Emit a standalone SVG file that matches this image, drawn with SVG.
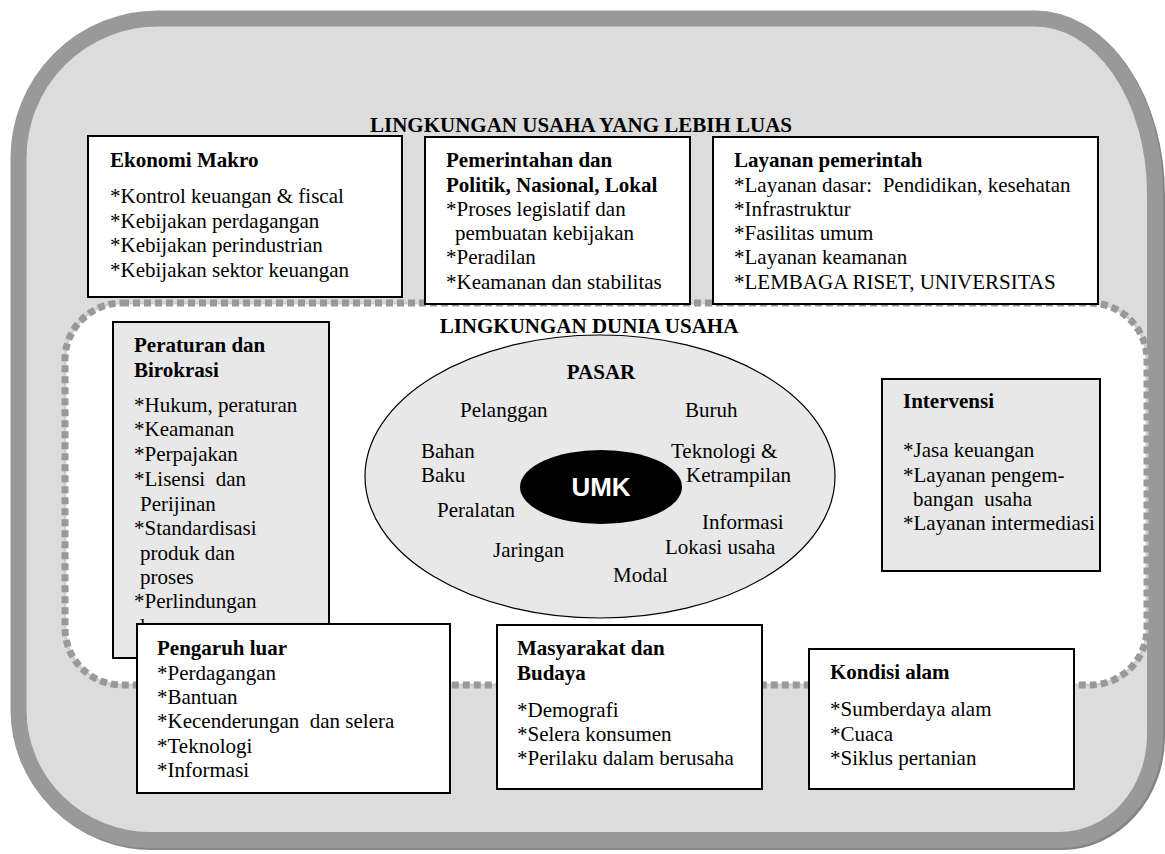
<svg xmlns="http://www.w3.org/2000/svg" width="1165" height="854" viewBox="0 0 1165 854">
<style>
text{font-family:"Liberation Serif","Times New Roman",serif;font-size:21px;fill:#000}
.b{font-weight:bold}
.box{fill:#fff;stroke:#000;stroke-width:2}
.gbox{fill:#e8e8e8;stroke:#000;stroke-width:2}
.umk{font-family:"Liberation Sans",Arial,sans-serif;font-weight:bold;font-size:26px;fill:#fff}
</style>
<defs>
<path id="outerPath" d="M158,18.5 H1035 A120,175 0 0 1 1155,193.5 V735 A95,105 0 0 1 1060,840 H150 A132,130 0 0 1 18.5,710 V158 A139.5,139.5 0 0 1 158,18.5 Z"/>
</defs>
<rect width="1165" height="854" fill="#fff"/>
<g id="outer">
<use href="#outerPath" transform="translate(2,2)" fill="none" stroke="#858585" stroke-width="16"/>
<use href="#outerPath" fill="#dcdcdc" stroke="#999" stroke-width="16"/>
<text class="b" x="581" y="132" text-anchor="middle">LINGKUNGAN USAHA YANG LEBIH LUAS</text>
</g>
<g id="inner">
<rect x="65" y="303" width="1082" height="382" rx="57" fill="#fff" stroke="#cfcfcf" stroke-width="3"/>
<rect x="65" y="303" width="1082" height="382" rx="57" fill="none" stroke="#999" stroke-width="7" stroke-dasharray="7,4"/>
<text class="b" x="589" y="333" text-anchor="middle">LINGKUNGAN DUNIA USAHA</text>
</g>
<g id="ekonomi-makro">
<rect class="box" x="88" y="136" width="314" height="161"/>
<text class="b" x="110" y="167">Ekonomi Makro</text>
<text x="110" y="203">*Kontrol keuangan &amp; fiscal</text>
<text x="110" y="228">*Kebijakan perdagangan</text>
<text x="110" y="252">*Kebijakan perindustrian</text>
<text x="110" y="277">*Kebijakan sektor keuangan</text>
</g>
<g id="pemerintahan">
<rect class="box" x="425" y="137" width="265" height="167"/>
<text class="b" x="446" y="167">Pemerintahan dan</text>
<text class="b" x="446" y="192">Politik, Nasional, Lokal</text>
<text x="446" y="216">*Proses legislatif dan</text>
<text x="455" y="240">pembuatan kebijakan</text>
<text x="446" y="264">*Peradilan</text>
<text x="446" y="289">*Keamanan dan stabilitas</text>
</g>
<g id="layanan-pemerintah">
<rect class="box" x="713" y="137" width="385" height="167"/>
<text class="b" x="734" y="167">Layanan pemerintah</text>
<text x="734" y="192" xml:space="preserve">*Layanan dasar:  Pendidikan, kesehatan</text>
<text x="734" y="216">*Infrastruktur</text>
<text x="734" y="240">*Fasilitas umum</text>
<text x="734" y="264">*Layanan keamanan</text>
<text x="734" y="289">*LEMBAGA RISET, UNIVERSITAS</text>
</g>
<g id="peraturan">
<rect class="gbox" x="113" y="322" width="216" height="336"/>
<text class="b" x="134" y="352">Peraturan dan</text>
<text class="b" x="134" y="377">Birokrasi</text>
<text x="134" y="412">*Hukum, peraturan</text>
<text x="134" y="436">*Keamanan</text>
<text x="134" y="461">*Perpajakan</text>
<text x="134" y="486" xml:space="preserve">*Lisensi  dan</text>
<text x="140" y="511">Perijinan</text>
<text x="134" y="535">*Standardisasi</text>
<text x="140" y="560">produk dan</text>
<text x="140" y="584">proses</text>
<text x="134" y="608">*Perlindungan</text>
<text x="140" y="633">konsumen</text>
</g>
<g id="pasar">
<ellipse cx="600" cy="476.5" rx="235" ry="141.5" fill="#e8e8e8" stroke="#000" stroke-width="1.2"/>
<rect x="813" y="565" width="20" height="15" fill="#fff"/>
<text class="b" x="601" y="379" text-anchor="middle">PASAR</text>
<text x="460" y="417">Pelanggan</text>
<text x="685" y="417">Buruh</text>
<text x="421" y="458">Bahan</text>
<text x="421" y="482">Baku</text>
<text x="671" y="458">Teknologi &amp;</text>
<text x="686" y="482">Ketrampilan</text>
<text x="437" y="517">Peralatan</text>
<text x="702" y="529">Informasi</text>
<text x="493" y="557">Jaringan</text>
<text x="665" y="554">Lokasi usaha</text>
<text x="613" y="582">Modal</text>
</g>
<g id="umk">
<ellipse cx="601" cy="487" rx="81" ry="37" fill="#000"/>
<text class="umk" x="601" y="496" text-anchor="middle">UMK</text>
</g>
<g id="intervensi">
<rect class="gbox" x="882" y="379" width="218" height="192"/>
<text class="b" x="903" y="408">Intervensi</text>
<text x="903" y="457">*Jasa keuangan</text>
<text x="903" y="482">*Layanan pengem-</text>
<text x="913" y="506" xml:space="preserve">bangan  usaha</text>
<text x="903" y="530">*Layanan intermediasi</text>
</g>
<g id="pengaruh-luar">
<rect class="box" x="137" y="624" width="313" height="169"/>
<text class="b" x="157" y="655">Pengaruh luar</text>
<text x="157" y="680">*Perdagangan</text>
<text x="157" y="704">*Bantuan</text>
<text x="157" y="728" xml:space="preserve">*Kecenderungan  dan selera</text>
<text x="157" y="753">*Teknologi</text>
<text x="157" y="777">*Informasi</text>
</g>
<g id="masyarakat">
<rect class="box" x="497" y="625" width="265" height="164"/>
<text class="b" x="517" y="655">Masyarakat dan</text>
<text class="b" x="517" y="680">Budaya</text>
<text x="517" y="717">*Demografi</text>
<text x="517" y="741">*Selera konsumen</text>
<text x="517" y="765">*Perilaku dalam berusaha</text>
</g>
<g id="kondisi-alam">
<rect class="box" x="809" y="649" width="265" height="140"/>
<text class="b" x="830" y="679">Kondisi alam</text>
<text x="830" y="716">*Sumberdaya alam</text>
<text x="830" y="741">*Cuaca</text>
<text x="830" y="765">*Siklus pertanian</text>
</g>
<g id="connectors"/>
</svg>
